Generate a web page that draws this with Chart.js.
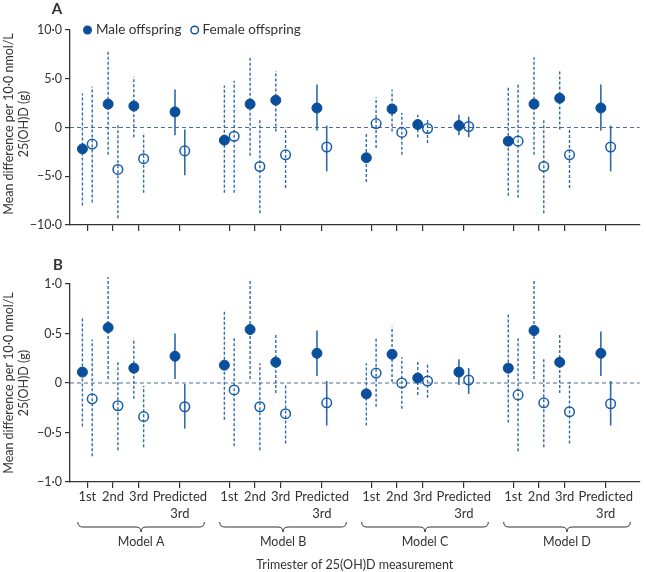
<!DOCTYPE html>
<html>
<head>
<meta charset="utf-8">
<script src="https://cdn.jsdelivr.net/npm/chart.js@4.4.1/dist/chart.umd.min.js"></script>
<style>
  html, body { margin: 0; padding: 0; background: #fff; }
  #wrap { position: relative; width: 646px; height: 572px; }
  #chartA { position: absolute; left: 0; top: 0; }
  #chartB { position: absolute; left: 0; top: 240px; }
</style>
</head>
<body>
<div id="wrap">
  <canvas id="chartA" width="646" height="240"></canvas>
  <canvas id="chartB" width="646" height="332"></canvas>
</div>
<script>
const trimesters = ['1st', '2nd', '3rd', ['Predicted', '3rd']];
const models = ['Model A', 'Model B', 'Model C', 'Model D'];

// panel A: birthweight (g), order = model A..D x trimester 1st, 2nd, 3rd, predicted 3rd
const maleA     = [-2.2, 2.4, 2.2, 1.6, -1.3, 2.4, 2.8, 2.0, -3.1, 1.9, 0.3, 0.2, -1.4, 2.4, 3.0, 2.0];
const maleLoA   = [-8.0, -2.8, -1.0, -0.8, -6.7, -2.9, -0.4, -0.3, -5.6, -0.4, -1.0, -0.8, -7.0, -2.8, -0.2, -0.3];
const maleHiA   = [3.5, 7.8, 5.2, 3.9, 4.3, 7.2, 5.8, 4.4, -0.6, 3.9, 1.3, 1.3, 4.1, 7.2, 5.9, 4.4];
const femaleA   = [-1.7, -4.3, -3.2, -2.4, -0.9, -4.0, -2.8, -2.0, 0.4, -0.5, -0.1, 0.1, -1.4, -4.0, -2.8, -2.0];
const femaleLoA = [-7.7, -9.3, -6.7, -4.9, -6.7, -8.8, -6.2, -4.5, -2.1, -2.8, -1.6, -1.0, -7.2, -8.8, -6.2, -4.5];
const femaleHiA = [4.2, 0.4, -0.5, -0.2, 4.8, 0.8, 0.0, 0.2, 3.1, 1.5, 0.9, 1.1, 4.6, 0.8, 0.0, 0.2];

// panel B
const maleB     = [0.11, 0.56, 0.15, 0.27, 0.18, 0.54, 0.21, 0.30, -0.11, 0.29, 0.05, 0.11, 0.15, 0.53, 0.21, 0.30];
const maleLoB   = [-0.44, 0.04, -0.16, 0.04, -0.37, 0.04, -0.10, 0.07, -0.43, 0.01, -0.12, -0.02, -0.40, 0.04, -0.10, 0.07];
const maleHiB   = [0.67, 1.07, 0.45, 0.50, 0.72, 1.03, 0.50, 0.53, 0.20, 0.57, 0.22, 0.24, 0.70, 1.03, 0.50, 0.52];
const femaleB   = [-0.16, -0.23, -0.34, -0.24, -0.07, -0.24, -0.31, -0.20, 0.10, 0.00, 0.02, 0.03, -0.12, -0.20, -0.29, -0.21];
const femaleLoB = [-0.74, -0.68, -0.65, -0.46, -0.64, -0.68, -0.61, -0.43, -0.24, -0.26, -0.15, -0.11, -0.69, -0.65, -0.61, -0.43];
const femaleHiB = [0.44, 0.21, -0.03, -0.01, 0.47, 0.20, -0.01, 0.02, 0.45, 0.26, 0.20, 0.15, 0.47, 0.26, 0.01, 0.02];

// where each trimester sits inside a model group (x units)
const groupSlots = [0, 1, 2, 3.6];
const groupStep = 5.52;
const sexOffset = 0.19;

const FONT = 'Lato, "Open Sans", sans-serif';
const INK = '#333333';
const DARK_BLUE = '#0b4f9c';
const BAR_BLUE = '#2e6aad';

function slotX(i) {
  return Math.floor(i / 4) * groupStep + groupSlots[i % 4];
}

function points(values, offset) {
  return values.map((v, i) => ({ x: slotX(i) + offset, y: v }));
}

function fmt(v) {
  if (Math.abs(v) < 1e-9) return '0';
  return (v < 0 ? '\u2212' : '') + Math.abs(v).toFixed(1).replace('.', '\u00b7');
}

const tickPositions = models.flatMap((m, g) => groupSlots.map(s => g * groupStep + s));

function errorBarsPlugin(bars) {
  return {
    id: 'errorBars',
    beforeDatasetsDraw(chart) {
      const { ctx, chartArea, scales: { x, y } } = chart;
      ctx.save();
      // dashed zero line
      const y0 = y.getPixelForValue(0);
      ctx.strokeStyle = '#4f6f92';
      ctx.lineWidth = 1.2;
      ctx.setLineDash([4, 3]);
      ctx.beginPath();
      ctx.moveTo(chartArea.left, y0);
      ctx.lineTo(chartArea.right, y0);
      ctx.stroke();

      bars.forEach(b => {
        b.lo.forEach((lo, i) => {
          const px = x.getPixelForValue(slotX(i) + b.offset);
          const predicted = i % 4 === 3;
          ctx.setLineDash(predicted ? [] : [3, 2]);
          ctx.lineWidth = predicted ? 1.6 : 1.4;
          ctx.strokeStyle = BAR_BLUE;
          ctx.beginPath();
          ctx.moveTo(px, y.getPixelForValue(lo));
          ctx.lineTo(px, y.getPixelForValue(b.hi[i]));
          ctx.stroke();
        });
      });
      ctx.restore();
    }
  };
}

function yTitle(ctx, cy) {
  ctx.save();
  ctx.font = '12.5px ' + FONT;
  ctx.fillStyle = INK;
  ctx.textAlign = 'center';
  ctx.textBaseline = 'middle';
  ctx.translate(9, cy);
  ctx.rotate(-Math.PI / 2);
  ctx.fillText('Mean difference per 10\u00b70 nmol/L', 0, 0);
  ctx.fillText('25(OH)D (g)', 0, 15);
  ctx.restore();
}

function panelLetter(ctx, letter, x, y) {
  ctx.save();
  ctx.font = 'bold 15px ' + FONT;
  ctx.fillStyle = INK;
  ctx.textAlign = 'center';
  ctx.textBaseline = 'middle';
  ctx.fillText(letter, x, y);
  ctx.restore();
}

function brace(ctx, x1, x2, y, h) {
  const mid = (x1 + x2) / 2, r = h / 2;
  ctx.beginPath();
  ctx.moveTo(x1, y);
  ctx.quadraticCurveTo(x1, y + r, x1 + r, y + r);
  ctx.lineTo(mid - r, y + r);
  ctx.quadraticCurveTo(mid, y + r, mid, y + h);
  ctx.quadraticCurveTo(mid, y + r, mid + r, y + r);
  ctx.lineTo(x2 - r, y + r);
  ctx.quadraticCurveTo(x2, y + r, x2, y);
  ctx.stroke();
}

const annotateA = {
  id: 'annotateA',
  afterDraw(chart) {
    const ctx = chart.ctx;
    panelLetter(ctx, 'A', 57, 9);
    yTitle(ctx, 124);
    // legend
    ctx.save();
    ctx.fillStyle = DARK_BLUE;
    ctx.beginPath();
    ctx.arc(87.5, 30, 4.5, 0, Math.PI * 2);
    ctx.fill();
    ctx.strokeStyle = DARK_BLUE;
    ctx.lineWidth = 1.4;
    ctx.beginPath();
    ctx.arc(194.7, 30, 3.8, 0, Math.PI * 2);
    ctx.stroke();
    ctx.font = '13.5px ' + FONT;
    ctx.fillStyle = INK;
    ctx.textBaseline = 'middle';
    ctx.fillText('Male offspring', 96, 30);
    ctx.fillText('Female offspring', 202.5, 30);
    ctx.restore();
  }
};

const annotateB = {
  id: 'annotateB',
  afterDraw(chart) {
    const ctx = chart.ctx;
    const x = chart.scales.x;
    const area = chart.chartArea;
    panelLetter(ctx, 'B', 58, 25);
    yTitle(ctx, 143);
    ctx.save();
    ctx.strokeStyle = INK;
    ctx.lineWidth = 1;
    ctx.fillStyle = INK;
    ctx.font = '12.5px ' + FONT;
    ctx.textAlign = 'center';
    ctx.textBaseline = 'middle';
    models.forEach((m, g) => {
      const x1 = x.getPixelForValue(g * groupStep + groupSlots[0]) - 9.5;
      const x2 = x.getPixelForValue(g * groupStep + groupSlots[3]) + 24.5;
      brace(ctx, x1, x2, 282, 10);
      ctx.fillText(m, (x1 + x2) / 2, 302);
    });
    ctx.fillText('Trimester of 25(OH)D measurement', (area.left + area.right) / 2, 325);
    ctx.restore();
  }
};

function makeConfig(male, maleLo, maleHi, female, femaleLo, femaleHi, yOpts, xHeight, padTop, labels, annotate) {
  return {
    type: 'scatter',
    data: {
      datasets: [
        {
          label: 'Male offspring',
          data: points(male, -sexOffset),
          pointStyle: 'circle',
          pointRadius: 5,
          pointBackgroundColor: DARK_BLUE,
          pointBorderColor: DARK_BLUE,
          pointBorderWidth: 1,
        },
        {
          label: 'Female offspring',
          data: points(female, sexOffset),
          pointStyle: 'circle',
          pointRadius: 4.8,
          pointBackgroundColor: 'rgba(0,0,0,0)',
          pointBorderColor: '#1a5ca6',
          pointBorderWidth: 1.5,
        }
      ]
    },
    options: {
      responsive: false,
      animation: false,
      layout: { padding: { top: padTop, right: 0, bottom: 0, left: 0 } },
      plugins: {
        legend: { display: false },
        tooltip: { enabled: false },
      },
      scales: {
        x: {
          type: 'linear',
          min: -0.673,
          max: 21.48,
          afterBuildTicks(scale) {
            scale.ticks = tickPositions.map(v => ({ value: v }));
          },
          afterFit(scale) { scale.height = xHeight; },
          grid: { drawOnChartArea: false, drawTicks: true, tickLength: 6, color: INK, lineWidth: 1.2 },
          border: { display: true, color: INK, width: 1.3 },
          ticks: {
            display: labels,
            autoSkip: false,
            maxRotation: 0,
            padding: 0,
            color: INK,
            font: { family: FONT, size: 13, lineHeight: 1.3 },
            callback: (value, index) => trimesters[index % 4],
          }
        },
        y: {
          min: yOpts.min,
          max: yOpts.max,
          afterFit(scale) { scale.width = 70; },
          grid: { drawOnChartArea: false, drawTicks: true, tickLength: 5, color: INK, lineWidth: 1.2 },
          border: { display: true, color: INK, width: 1.3 },
          ticks: {
            stepSize: yOpts.step,
            padding: 3,
            color: INK,
            font: { family: FONT, size: 12.5 },
            callback: v => fmt(v),
          }
        }
      }
    },
    plugins: [
      errorBarsPlugin([
        { offset: -sexOffset, lo: maleLo, hi: maleHi },
        { offset: sexOffset, lo: femaleLo, hi: femaleHi },
      ]),
      annotate
    ]
  };
}

new Chart(document.getElementById('chartA').getContext('2d'),
  makeConfig(maleA, maleLoA, maleHiA, femaleA, femaleLoA, femaleHiA,
    { min: -10, max: 10, step: 5 }, 15, 30, false, annotateA));

new Chart(document.getElementById('chartB').getContext('2d'),
  makeConfig(maleB, maleLoB, maleHiB, femaleB, femaleLoB, femaleHiB,
    { min: -1, max: 1, step: 0.5 }, 90, 44, true, annotateB));
</script>
</body>
</html>
